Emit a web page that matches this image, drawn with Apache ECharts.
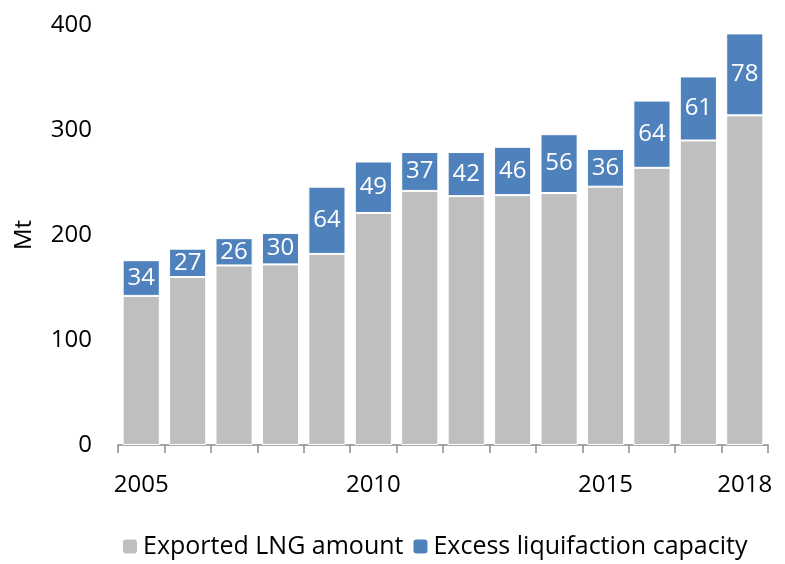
<!DOCTYPE html>
<html>
<head>
<meta charset="utf-8">
<script src="https://cdn.jsdelivr.net/npm/echarts@6/dist/echarts.min.js"></script>
<style>
  html, body { margin: 0; padding: 0; background: #fff; }
  #main { width: 785px; height: 564px; }
</style>
</head>
<body>
<div id="main"></div>
<script>
// years on the x axis
var years = ['2005', '2006', '2007', '2008', '2009', '2010', '2011', '2012', '2013', '2014', '2015', '2016', '2017', '2018'];
// only these years get a label
var shownYears = ['2005', '2010', '2015', '2018'];
// exported LNG (Mt)
var exported = [142, 160, 171, 172, 182, 221, 242, 237, 238, 240, 246, 264, 290, 314];
// excess liquifaction capacity (Mt)
var excess = [34, 27, 26, 30, 64, 49, 37, 42, 46, 56, 36, 64, 61, 78];
var yTicks = [0, 100, 200, 300, 400];

var font = '"Open Sans", "Noto Sans", sans-serif';

var myChart = echarts.init(document.getElementById('main'));

var option = {
    backgroundColor: '#fff',
    animation: false,
    textStyle: { fontFamily: font },
    grid: { left: 118, right: 17, top: 25, bottom: 119, containLabel: false },
    legend: {
        bottom: 0,
        left: 116,
        itemWidth: 16,
        itemHeight: 16,
        itemGap: 8,
        textStyle: { fontSize: 25, color: '#000', fontFamily: font },
        data: ['Exported LNG amount', 'Excess liquifaction capacity']
    },
    xAxis: {
        type: 'category',
        data: years,
        axisLine: { lineStyle: { color: '#8c8c8c', width: 1.5 } },
        axisTick: { show: true, length: 8, lineStyle: { color: '#8c8c8c', width: 1.5 } },
        axisLabel: {
            interval: 0,
            fontSize: 24,
            color: '#000',
            margin: 28,
            formatter: function (v) {
                return shownYears.indexOf(v) >= 0 ? v : '';
            }
        }
    },
    yAxis: {
        type: 'value',
        min: yTicks[0],
        max: yTicks[yTicks.length - 1],
        interval: 100,
        name: 'Mt',
        nameLocation: 'middle',
        nameGap: 82,
        nameTextStyle: { fontSize: 24, color: '#000' },
        axisLine: { show: false },
        axisTick: { show: false },
        splitLine: { show: false },
        axisLabel: { fontSize: 24, color: '#000', margin: 26 }
    },
    series: [
        {
            name: 'Exported LNG amount',
            type: 'bar',
            stack: 'total',
            barCategoryGap: '20%',
            itemStyle: { color: '#bfbfbf', borderColor: '#fff', borderWidth: 1 },
            data: exported
        },
        {
            name: 'Excess liquifaction capacity',
            type: 'bar',
            stack: 'total',
            itemStyle: { color: '#4f81bd', borderColor: '#fff', borderWidth: 1 },
            label: {
                show: true,
                position: 'inside',
                color: '#fff',
                fontSize: 24,
                fontFamily: font
            },
            data: excess
        }
    ]
};

myChart.setOption(option);
</script>
</body>
</html>
